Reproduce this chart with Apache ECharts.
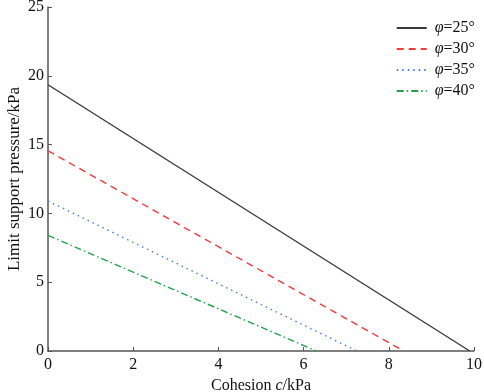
<!DOCTYPE html>
<html>
<head>
<meta charset="utf-8">
<script src="https://cdn.jsdelivr.net/npm/echarts@6/dist/echarts.min.js"></script>
<style>
  html, body { margin: 0; padding: 0; background: #fff; }
  #chart { width: 484px; height: 392px; }
</style>
</head>
<body>
<div id="chart"></div>
<script>
// series names (friction angle) and line endpoints
const seriesNames = ['φ=25°', 'φ=30°', 'φ=35°', 'φ=40°']
// cohesion values (kPa) at the two ends of each line
const cohesion25 = [0, 9.9]
const cohesion30 = [0, 8.35]
const cohesion35 = [0, 7.25]
const cohesion40 = [0, 6.3]
// limit support pressure (kPa) at those cohesion values
const pressure25 = [19.35, 0]
const pressure30 = [14.55, 0]
const pressure35 = [10.9, 0]
const pressure40 = [8.4, 0]

const colors = ['#3a3a3a', '#f23a3a', '#3d7fe6', '#22a34a']
const lineTypes = ['solid', [7, 5], [1.5, 4], [7, 3, 1.5, 3]]

const font = 'Liberation Serif'

const pairs = [
  [cohesion25, pressure25],
  [cohesion30, pressure30],
  [cohesion35, pressure35],
  [cohesion40, pressure40]
]

const chart = echarts.init(document.getElementById('chart'))

chart.setOption({
  animation: false,
  textStyle: { fontFamily: font },
  grid: { left: 48, right: 10, top: 7, bottom: 41, outerBoundsMode: 'none', containLabel: false },
  legend: {
    orient: 'vertical',
    right: 4,
    top: 15,
    itemWidth: 30,
    itemHeight: 14,
    itemGap: 5,
    data: seriesNames,
    itemStyle: { opacity: 0 },
    formatter(name) {
      return '{i|φ}' + name.slice(1)
    },
    textStyle: {
      fontFamily: font,
      fontSize: 16,
      color: '#111',
      padding: [0, 0, 0, 3],
      rich: {
        i: { fontFamily: font, fontStyle: 'italic', fontSize: 16, color: '#111' }
      }
    }
  },
  xAxis: {
    type: 'value',
    min: 0,
    max: 10,
    interval: 2,
    name: '{n|Cohesion }{i|c}{n|/kPa}',
    nameLocation: 'middle',
    nameGap: 25,
    nameTextStyle: {
      rich: {
        n: { fontFamily: font, fontSize: 16, color: '#111' },
        i: { fontFamily: font, fontSize: 16, fontStyle: 'italic', color: '#111' }
      }
    },
    axisLine: { lineStyle: { color: '#555', width: 1.5 } },
    axisTick: { inside: true, length: 4, lineStyle: { color: '#555' } },
    axisLabel: { fontFamily: font, fontSize: 16, color: '#111', margin: 6 },
    splitLine: { show: false }
  },
  yAxis: {
    type: 'value',
    min: 0,
    max: 25,
    interval: 5,
    name: 'Limit support pressure/kPa',
    nameLocation: 'middle',
    nameGap: 25,
    nameMoveOverlap: false,
    nameTextStyle: { fontFamily: font, fontSize: 17, color: '#111' },
    axisLine: { show: true, lineStyle: { color: '#555', width: 1.5 } },
    axisTick: { show: true, inside: true, length: 4, lineStyle: { color: '#555' } },
    axisLabel: { fontFamily: font, fontSize: 16, color: '#111', margin: 4 },
    splitLine: { show: false }
  },
  series: seriesNames.map((name, i) => ({
    name,
    type: 'line',
    showSymbol: false,
    symbol: 'none',
    color: colors[i],
    lineStyle: { color: colors[i], width: 1.4, type: lineTypes[i] },
    data: pairs[i][0].map((c, j) => [c, pairs[i][1][j]])
  }))
})
</script>
</body>
</html>
